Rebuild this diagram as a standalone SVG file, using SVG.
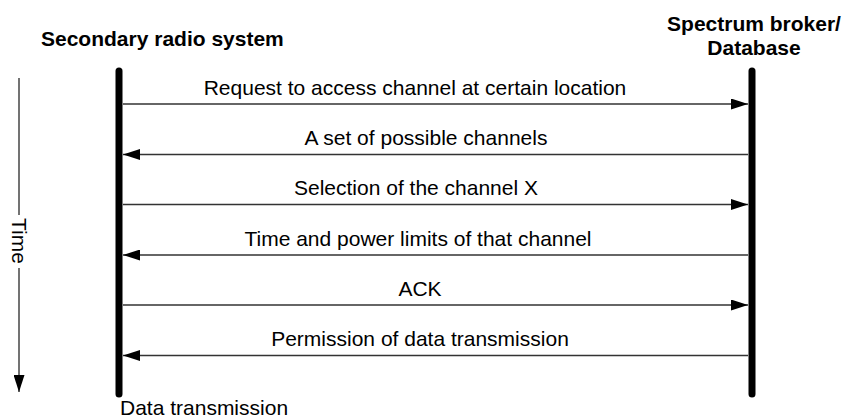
<svg xmlns="http://www.w3.org/2000/svg" width="846" height="419" viewBox="0 0 846 419">
  <style>
    text { font-family: "Liberation Sans", Arial, sans-serif; font-size: 21px; fill: #000; }
    .title { font-weight: bold; }
    .mid { text-anchor: middle; }
    .lifeline { stroke: #000; stroke-width: 7; stroke-linecap: round; fill: none; }
    .msg { stroke: #333; stroke-width: 1.5; fill: none; }
    .axis { stroke: #444; stroke-width: 1.5; fill: none; }
  </style>
  <defs>
    <marker id="head" viewBox="0 0 17 11" refX="17" refY="5.5" markerWidth="17" markerHeight="11" markerUnits="userSpaceOnUse" orient="auto">
      <path d="M0,0 L17,5.5 L0,11 Z" fill="#000"/>
    </marker>
  </defs>

  <rect width="846" height="419" fill="#fff"/>

  <!-- time axis -->
  <g id="time-axis">
    <line class="axis" x1="19" y1="78" x2="19" y2="215"/>
    <line class="axis" x1="19" y1="268" x2="19" y2="392" marker-end="url(#head)"/>
    <text class="mid" transform="translate(12,241) rotate(90)">Time</text>
  </g>

  <!-- participants -->
  <g id="secondary-radio-system">
    <text class="title" x="41" y="46">Secondary radio system</text>
    <line class="lifeline" x1="119" y1="71" x2="119" y2="394"/>
    <text x="120" y="415">Data transmission</text>
  </g>

  <g id="spectrum-broker">
    <text class="title mid" x="754" y="31">Spectrum broker/</text>
    <text class="title mid" x="754" y="55">Database</text>
    <line class="lifeline" x1="752" y1="71" x2="752" y2="394"/>
  </g>

  <!-- messages -->
  <g id="connectors">
    <line class="msg" x1="123" y1="104" x2="748" y2="104" marker-end="url(#head)"/>
    <line class="msg" x1="748" y1="154.5" x2="123" y2="154.5" marker-end="url(#head)"/>
    <line class="msg" x1="123" y1="204.5" x2="748" y2="204.5" marker-end="url(#head)"/>
    <line class="msg" x1="748" y1="255" x2="123" y2="255" marker-end="url(#head)"/>
    <line class="msg" x1="123" y1="305" x2="748" y2="305" marker-end="url(#head)"/>
    <line class="msg" x1="748" y1="355.5" x2="123" y2="355.5" marker-end="url(#head)"/>
  </g>

  <g id="labels">
    <text class="mid" x="415" y="95">Request to access channel at certain location</text>
    <text class="mid" x="426" y="145">A set of possible channels</text>
    <text class="mid" x="416" y="195">Selection of the channel X</text>
    <text class="mid" x="418" y="246">Time and power limits of that channel</text>
    <text class="mid" x="420" y="296">ACK</text>
    <text class="mid" x="420" y="346">Permission of data transmission</text>
  </g>
</svg>
